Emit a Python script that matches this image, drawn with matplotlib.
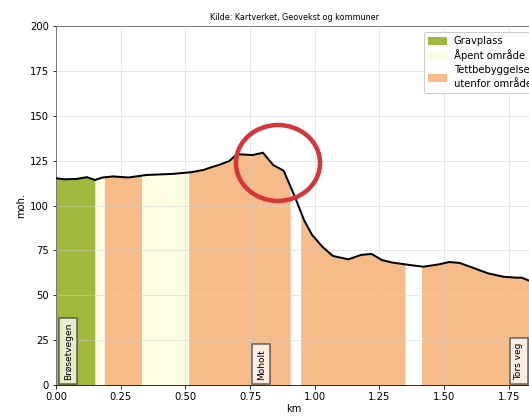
import matplotlib.pyplot as plt
import numpy as np
from matplotlib.patches import Ellipse, Patch

plt.rcParams['font.family'] = 'DejaVu Sans'
plt.rcParams['font.size'] = 10

# elevation profile (km, moh.)
dist = [0.00, 0.03, 0.08, 0.12, 0.15, 0.18, 0.22, 0.28, 0.35, 0.45, 0.52, 0.57,
        0.60, 0.63, 0.67, 0.70, 0.76, 0.80, 0.84, 0.88, 0.92, 0.96, 0.99, 1.03,
        1.07, 1.13, 1.18, 1.22, 1.26, 1.30, 1.37, 1.42, 1.48, 1.52, 1.56, 1.61,
        1.67, 1.73, 1.78, 1.80, 1.84]
elev = [115.2, 114.6, 114.8, 115.8, 114.2, 115.6, 116.2, 115.6, 117.0, 117.6, 118.5, 119.8,
        121.3, 122.6, 124.8, 128.6, 128.1, 129.4, 122.5, 119.4, 106.0, 91.5, 83.6, 77.0,
        71.9, 70.0, 72.5, 73.0, 69.6, 68.2, 66.8, 65.9, 67.2, 68.5, 68.0, 65.4,
        62.2, 60.3, 59.8, 59.8, 57.5]

# land use segments along the route
seg_start = [0.000, 0.151, 0.187, 0.331, 0.513, 0.946, 1.413]
seg_end = [0.151, 0.187, 0.331, 0.513, 0.905, 1.349, 1.84]
seg_type = ['Gravplass', 'Åpent område', 'Tettbebyggelse\nutenfor område',
            'Åpent område', 'Tettbebyggelse\nutenfor område',
            'Tettbebyggelse\nutenfor område', 'Tettbebyggelse\nutenfor område']
colors = {'Gravplass': '#9eb93c',
          'Åpent område': '#fdfde4',
          'Tettbebyggelse\nutenfor område': '#f6bb89'}

# street names
street_names = ['Brøsetvegen', 'Moholt', 'Tors veg']
street_pos = [0.047, 0.793, 1.79]

fig = plt.figure(figsize=(529 / 72, 416 / 72), dpi=72)
ax = fig.add_axes([56 / 529, 31 / 416, 476 / 529, 359 / 416])

dist = np.array(dist)
elev = np.array(elev)
for s, e, t in zip(seg_start, seg_end, seg_type):
    xs = np.linspace(s, e, 60)
    ys = np.interp(xs, dist, elev)
    ax.fill_between(xs, 0, ys, color=colors[t], linewidth=0, zorder=1)

ax.plot(dist, elev, color='black', linewidth=2, zorder=3)

for name, x in zip(street_names, street_pos):
    ax.text(x, 3, name, rotation=90, ha='center', va='bottom', fontsize=9,
            bbox=dict(boxstyle='square,pad=0.5', facecolor='white', alpha=0.75,
                      edgecolor='#333333', linewidth=1.5), zorder=4)

ax.add_patch(Ellipse((0.858, 123.7), 0.325, 42.3, fill=False,
                     edgecolor='#d6353b', linewidth=4.5, zorder=5))

ax.set_xlim(0, 1.84)
ax.set_ylim(0, 200)
ax.set_yticks([0, 25, 50, 75, 100, 125, 150, 175, 200])
ax.set_xlabel('km', labelpad=2)
ax.set_ylabel('moh.')
ax.set_title('Kilde: Kartverket, Geovekst og kommuner', fontsize=8)
ax.grid(True, color='#d0d0d0', linewidth=0.8, alpha=0.6, zorder=2)
ax.set_axisbelow(False)

handles = [Patch(color=colors[k], label=k) for k in colors]
leg = ax.legend(handles=handles, loc='upper left', bbox_to_anchor=(0.762, 0.998),
                framealpha=1, fontsize=10, handlelength=1.8, labelspacing=0.35)
for t in leg.get_texts():
    t.set_linespacing(1.55)

fig.savefig('out.png', dpi=72)
